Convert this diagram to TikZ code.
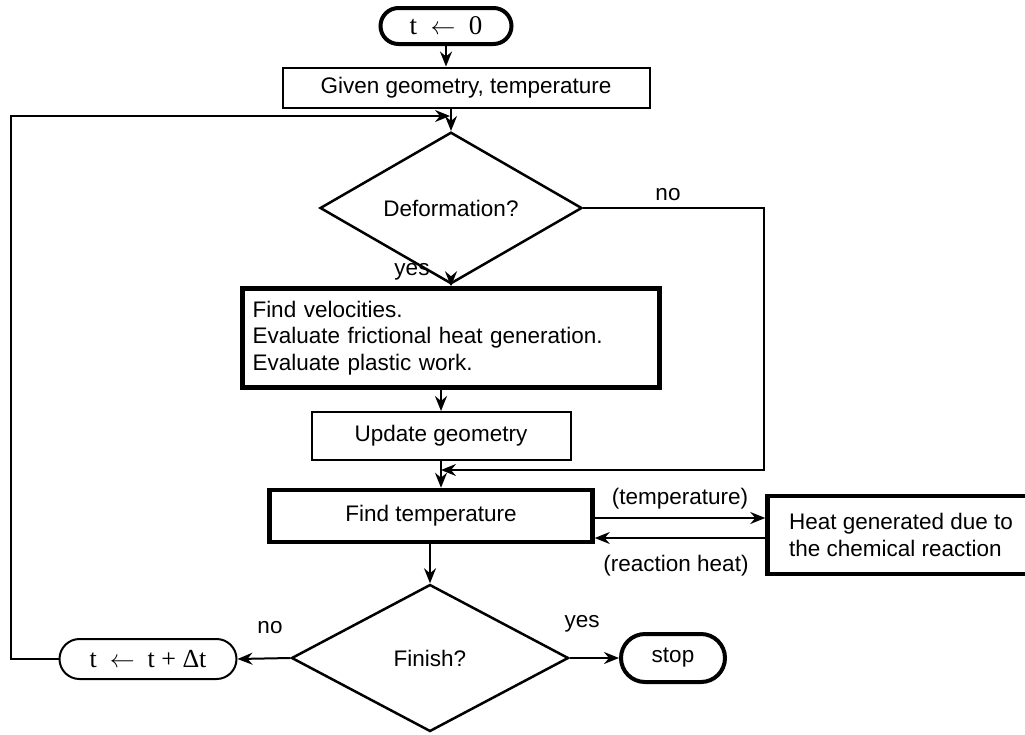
\documentclass[tikz,border=0pt]{standalone}
\usepackage{fontspec}
\setmainfont{Liberation Sans}
\newfontfamily\timesfont{Liberation Serif}
\usepackage{tikz}
\usetikzlibrary{
    arrows.meta,
    shapes.geometric,
    shapes.misc,
    positioning
}
\usepackage{amsmath}
\tikzstyle{terminal} = [
    rounded rectangle,
    draw,
    line width=4pt,
    inner sep=0pt
]
\tikzstyle{process} = [
    rectangle,
    draw,
    line width=2pt,
    inner sep=10pt
]
\tikzstyle{heavy} = [
    rectangle,
    draw,
    line width=4.5pt,
    inner sep=10pt
]
\tikzstyle{decision} = [
    diamond,
    draw,
    line width=2.5pt,
    inner sep=0pt
]
\tikzstyle{arrow} = [
    -{Stealth[length=15pt, width=12pt, inset=5pt]},
    line width=2pt
]

\begin{document}
\begin{tikzpicture}[x=1pt, y=-1pt, font=\fontsize{22.5}{26.5}\selectfont]
    \useasboundingbox (0,0) rectangle (1025,734);

    % Main column
    \node[terminal, minimum width=131pt, minimum height=36pt, font=\fontsize{27}{30}\timesfont] (start) at (446,26)
        {t\enspace$\leftarrow$\enspace0};
    \node[process, minimum width=367pt, minimum height=32pt] (given) at (466,88)
        {Given geometry, temperature};
    \node[decision, minimum width=262pt, minimum height=110pt] (deform) at (451,208)
        {Deformation?};
    \node[heavy, text width=397pt, align=left, minimum height=99pt] (velo) at (451,338)
        {Find velocities.\\Evaluate frictional heat generation.\\Evaluate plastic work.};
    \node[process, minimum width=259pt, minimum height=48pt] (update) at (441,436)
        {Update geometry};
    \node[heavy, minimum width=323pt, minimum height=52pt] (ftemp) at (431,516)
        {Find temperature};
    \node[heavy, minimum width=267pt, minimum height=78pt, align=left] (heat) at (901,535)
        {Heat generated due to\\the chemical reaction};
    \node[decision, minimum width=277pt, minimum height=147pt] (finish) at (430,658)
        {Finish?};
    \node[terminal, line width=2pt, minimum width=177pt, minimum height=40pt, font=\fontsize{26}{30}\timesfont] (incr) at (148,659)
        {t\enspace$\leftarrow$\enspace t + Δt};
    \node[terminal, minimum width=104pt, minimum height=48pt] (stop) at (673,658)
        {stop};

    % Join points of the loops
    \coordinate (join1) at (450,116);
    \coordinate (join2) at (441,470);

    % Arrows
    \draw[arrow] (start.south) -- (start.south |- given.north);
    \draw[arrow] (given.south -| deform) -- (deform.north);
    \draw[arrow] (deform.south) -- (velo.north);
    \draw[arrow] (velo.south -| update) -- (update.north);
    \draw[arrow] (update.south) -- (update.south |- ftemp.north);
    \draw[arrow] (ftemp.south -| finish) -- (finish.north);
    \draw[arrow] ([yshift=-2pt]ftemp.east) -- ([yshift=-2pt]ftemp.east -| heat.west);
    \draw[arrow] ([yshift=-22pt]ftemp.east -| heat.west) -- ([yshift=-22pt]ftemp.east);
    \draw[arrow] (finish.west) -- (incr.east);
    \draw[arrow] (finish.east) -- (stop.west);
    \draw[arrow] (deform.east) -- ++(181,0) |- (join2);
    \draw[arrow] (incr.west) -- ++(-48,0) |- (join1);

    % Labels
    \node (nolab1) at (668,195) {no};
    \node (yeslab1) at (412,272) {yes};
    \node (templab) at (680,499) {(temperature)};
    \node (reactlab) at (676,566) {(reaction heat)};
    \node (nolab2) at (270,628) {no};
    \node (yeslab2) at (582,624) {yes};
\end{tikzpicture}
\end{document}
